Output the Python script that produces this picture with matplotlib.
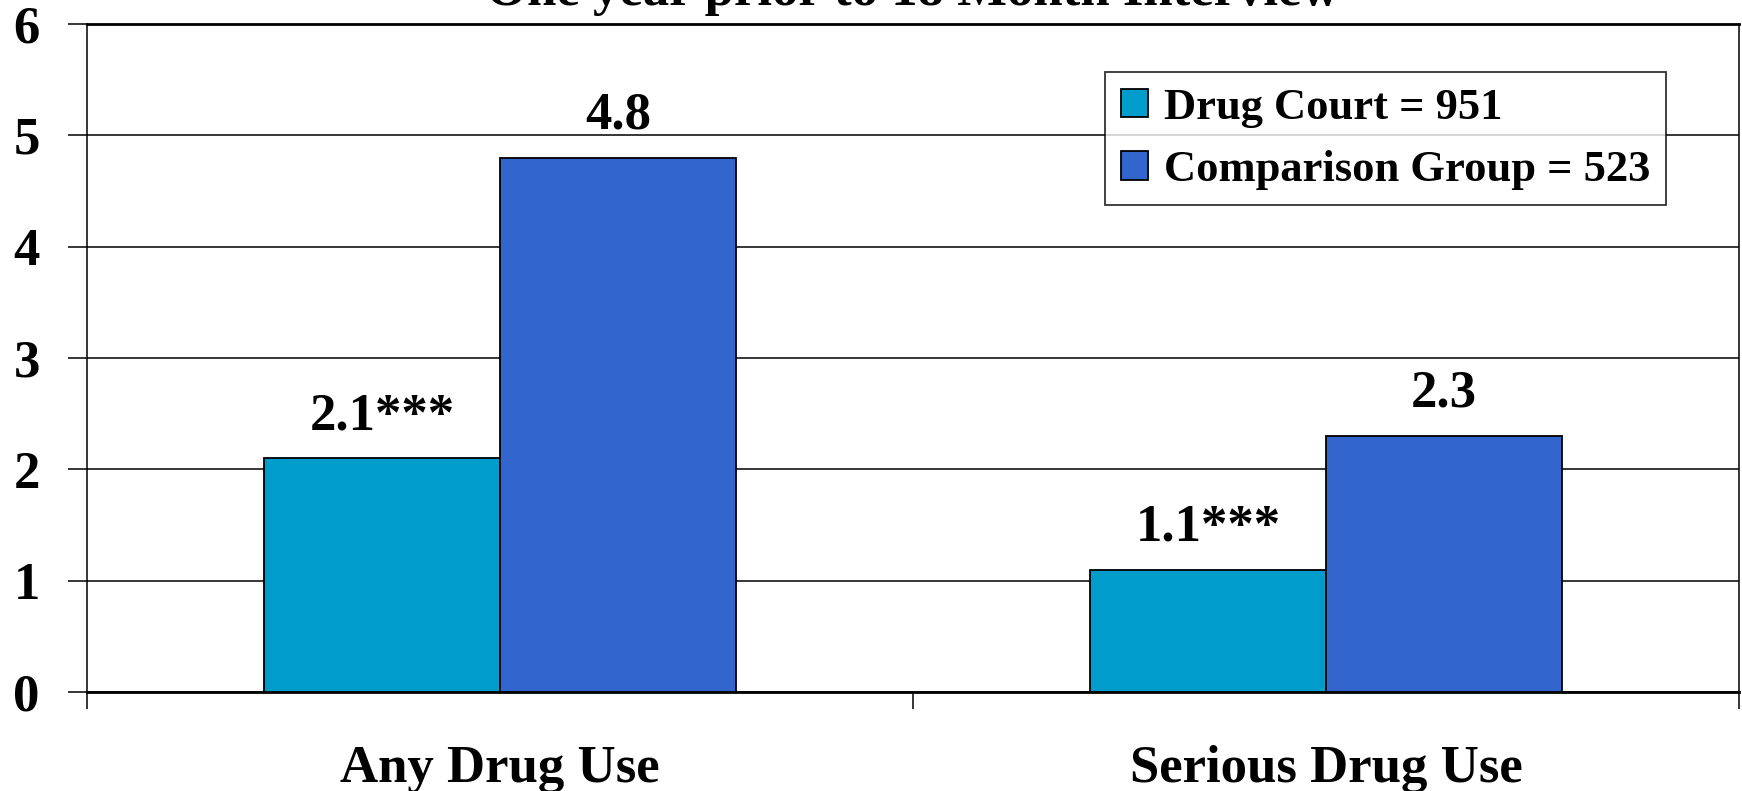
import matplotlib
matplotlib.use("Agg")
import matplotlib.pyplot as plt
import numpy as np

categories = ["Any Drug Use", "Serious Drug Use"]
series_names = ["Drug Court = 951", "Comparison Group = 523"]
drug_court = [2.1, 1.1]
comparison = [4.8, 2.3]
drug_court_labels = ["2.1***", "1.1***"]
comparison_labels = ["4.8", "2.3"]
title = "One year prior to 18 Month Interview"

colors = ["#009CCC", "#3366CC"]

plt.rcParams['font.family'] = ['Liberation Serif', 'DejaVu Serif']
plt.rcParams['font.weight'] = 'bold'

FS = 38

fig = plt.figure(figsize=(17.42, 7.91), dpi=100)
ax = fig.add_axes([87/1742, 1 - 692/791, (1739 - 87)/1742, (692 - 24)/791])

x = np.arange(len(categories))
w = 0.286
b1 = ax.bar(x - w/2, drug_court, w, color=colors[0], edgecolor='black', linewidth=1.3,
            label=series_names[0], zorder=3)
b2 = ax.bar(x + w/2, comparison, w, color=colors[1], edgecolor='black', linewidth=1.3,
            label=series_names[1], zorder=3)

for rect, lab in zip(b1, drug_court_labels):
    ax.annotate(lab, (rect.get_x() + rect.get_width()/2, rect.get_height()),
                xytext=(0, 21), textcoords='offset points', ha='center', va='baseline',
                fontsize=FS, fontweight='bold')
for rect, lab in zip(b2, comparison_labels):
    ax.annotate(lab, (rect.get_x() + rect.get_width()/2, rect.get_height()),
                xytext=(0, 21), textcoords='offset points', ha='center', va='baseline',
                fontsize=FS, fontweight='bold')

ax.set_xlim(-0.5, 1.5)
ax.set_ylim(0, 6)
ax.set_yticks(range(0, 7))
ax.yaxis.grid(True, color='black', linewidth=1.1, zorder=0)
ax.set_axisbelow(True)
ax.tick_params(axis='y', length=14, width=1.1, pad=20, labelsize=FS)
for lab in ax.get_yticklabels():
    lab.set_fontweight('bold')

ax.set_xticks(x)
ax.set_xticklabels(categories, fontsize=FS, fontweight='bold')
ax.tick_params(axis='x', which='major', length=0, pad=38)
ax.set_xticks([-0.5, 0.5, 1.5], minor=True)
ax.tick_params(axis='x', which='minor', length=12, width=1.1)

for s in ['left', 'right']:
    ax.spines[s].set_linewidth(1.1)
ax.spines['bottom'].set_linewidth(2.0)
ax.spines['top'].set_linewidth(2.0)

fig.text(0.5 * (87 + 1739) / 1742, 1 - 5/791, title, ha='center', va='baseline',
         fontsize=FS, fontweight='bold')

leg = ax.legend(loc='upper left', bbox_to_anchor=(1105/1742, 1 - 72/791),
                bbox_transform=fig.transFigure, fontsize=32, frameon=True, fancybox=False,
                edgecolor='black', handlelength=0.62, handleheight=0.62, handletextpad=0.35,
                labelspacing=0.5, borderpad=0.35, borderaxespad=0)
leg.get_frame().set_linewidth(1.3)
for t in leg.get_texts():
    t.set_fontweight('bold')

fig.savefig("out.png", dpi=100)
